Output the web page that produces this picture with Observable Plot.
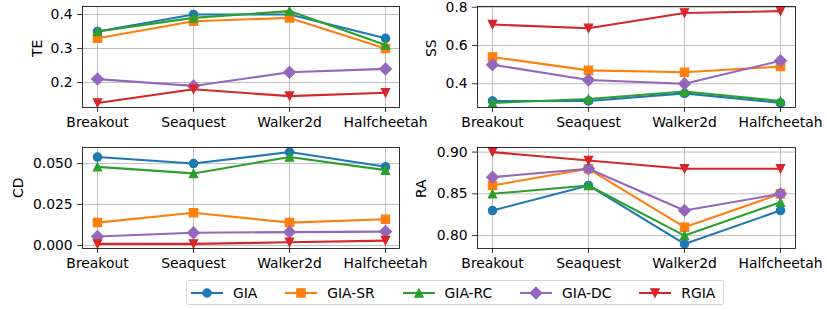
<!DOCTYPE html>
<html><head><meta charset="utf-8">
<script src="https://cdn.jsdelivr.net/npm/d3@7"></script>
<script src="https://cdn.jsdelivr.net/npm/@observablehq/plot@0.6"></script>
<style>
body{margin:0;background:#fff;font-family:"DejaVu Sans",sans-serif;color:#000;}
#chart{position:relative;width:827px;height:310px;overflow:hidden;}
#chart svg.panel{position:absolute;overflow:visible;background:none;}
#legend{position:absolute;left:186px;top:280px;height:25px;box-sizing:border-box;border:1px solid #d6d6d6;border-radius:3px;display:flex;align-items:center;padding-left:4px;padding-right:8px;font-size:13.9px;white-space:nowrap;}
#legend .item{display:flex;align-items:center;margin-right:27.8px;}
#legend .item:last-child{margin-right:0;}
#legend svg{margin-right:10px;}
</style></head><body><div id="chart"></div>
<script>
// ---- data ----
const environments = ["Breakout", "Seaquest", "Walker2d", "Halfcheetah"];
const methods = ["GIA", "GIA-SR", "GIA-RC", "GIA-DC", "RGIA"];
const colors = ["#1f77b4", "#ff7f0e", "#2ca02c", "#9467bd", "#d62728"];

// rows follow `methods`, columns follow `environments`
const teValues = [
  [0.35, 0.40, 0.40, 0.33],
  [0.33, 0.38, 0.39, 0.30],
  [0.35, 0.39, 0.41, 0.31],
  [0.21, 0.19, 0.23, 0.24],
  [0.14, 0.18, 0.16, 0.17]
];
const ssValues = [
  [0.31, 0.31, 0.35, 0.30],
  [0.54, 0.47, 0.46, 0.49],
  [0.30, 0.32, 0.36, 0.31],
  [0.50, 0.42, 0.40, 0.52],
  [0.71, 0.69, 0.77, 0.78]
];
const cdValues = [
  [0.054, 0.050, 0.057, 0.048],
  [0.014, 0.020, 0.014, 0.016],
  [0.048, 0.044, 0.054, 0.046],
  [0.0055, 0.0078, 0.0082, 0.0085],
  [0.001, 0.001, 0.002, 0.003]
];
const raValues = [
  [0.83, 0.86, 0.79, 0.83],
  [0.86, 0.88, 0.81, 0.85],
  [0.85, 0.86, 0.80, 0.84],
  [0.87, 0.88, 0.83, 0.85],
  [0.90, 0.89, 0.88, 0.88]
];
const teTicks = [0.2, 0.3, 0.4];
const ssTicks = [0.4, 0.6, 0.8];
const cdTicks = [0.000, 0.025, 0.050];
const raTicks = [0.80, 0.85, 0.90];

// ---- styles ----
const FONT = 13.9;
const HALF = 4.17; // half marker size (px)
const markerSymbols = [
  {draw(c){ c.moveTo(HALF, 0); c.arc(0, 0, HALF, 0, 2 * Math.PI); c.closePath(); }},
  {draw(c){ c.rect(-HALF, -HALF, 2 * HALF, 2 * HALF); }},
  {draw(c){ c.moveTo(0, -HALF); c.lineTo(HALF, HALF); c.lineTo(-HALF, HALF); c.closePath(); }},
  {draw(c){ const d = HALF * Math.SQRT2; c.moveTo(0, -d); c.lineTo(d, 0); c.lineTo(0, d); c.lineTo(-d, 0); c.closePath(); }},
  {draw(c){ c.moveTo(0, HALF); c.lineTo(HALF, -HALF); c.lineTo(-HALF, -HALF); c.closePath(); }}
];

function panel(values, label, ticks, fmt, box) {
  const rows = [];
  methods.forEach((m, i) => environments.forEach((e, j) => rows.push({method: m, env: e, value: values[i][j]})));
  const all = values.flat();
  const lo = d3.min(all), hi = d3.max(all), pad = (hi - lo) * 0.05;
  const marks = [
    Plot.gridX({stroke: "#b0b0b0", strokeOpacity: 1, strokeWidth: 0.8}),
    Plot.gridY(ticks, {stroke: "#b0b0b0", strokeOpacity: 1, strokeWidth: 0.8})
  ];
  methods.forEach((m, i) => {
    const d = rows.filter(r => r.method === m);
    marks.push(Plot.line(d, {x: "env", y: "value", stroke: colors[i], strokeWidth: 2.08, clip: "frame"}));
    marks.push(Plot.dot(d, {x: "env", y: "value", symbol: markerSymbols[i], fill: colors[i], stroke: colors[i], strokeWidth: 1.2, r: 4, clip: "frame"}));
  });
  marks.push(Plot.frame({stroke: "black", strokeWidth: 0.8}));
  marks.push(Plot.axisX({tickSize: 4.9, tickPadding: 4.9, fontSize: FONT, label: null, stroke: "black", strokeWidth: 0.8}));
  marks.push(Plot.axisY(ticks, {tickSize: 4.9, tickPadding: 4.9, fontSize: FONT, tickFormat: d3.format(fmt), label: null, stroke: "black", strokeWidth: 0.8}));
  marks.push(Plot.text([label], {text: d => d, frameAnchor: "left", rotate: -90, dx: box.labelDx, lineAnchor: "middle", fontSize: FONT, fill: "black"}));
  const svg = Plot.plot({
    width: box.width, height: box.height,
    marginLeft: box.ml, marginRight: box.mr, marginTop: box.mt, marginBottom: box.mb,
    style: {fontFamily: "DejaVu Sans", fontSize: FONT + "px", overflow: "visible", background: "none", color: "black"},
    x: {type: "point", domain: environments, padding: 0.15},
    y: {domain: [lo - pad, hi + pad]},
    marks
  });
  svg.classList.add("panel");
  svg.style.left = box.left + "px";
  svg.style.top = box.top + "px";
  return svg;
}

const chart = document.getElementById("chart");
chart.append(panel(teValues, "TE", teTicks, ".1f", {left: 0, top: 0, width: 413, height: 135, ml: 82, mr: 14, mt: 6, mb: 28, labelDx: -45}));
chart.append(panel(ssValues, "SS", ssTicks, ".1f", {left: 413, top: 0, width: 414, height: 135, ml: 64, mr: 32, mt: 6, mb: 28, labelDx: -46}));
chart.append(panel(cdValues, "CD", cdTicks, ".3f", {left: 0, top: 135, width: 413, height: 140, ml: 82, mr: 14, mt: 12, mb: 27, labelDx: -63.5}));
chart.append(panel(raValues, "RA", raTicks, ".2f", {left: 413, top: 135, width: 414, height: 140, ml: 64, mr: 32, mt: 12, mb: 27, labelDx: -56}));

// ---- legend ----
const legend = document.createElement("div");
legend.id = "legend";
methods.forEach((m, i) => {
  const item = document.createElement("div");
  item.className = "item";
  const s = d3.create("svg").attr("width", 32).attr("height", 14);
  s.append("line").attr("x1", 0).attr("x2", 32).attr("y1", 7).attr("y2", 7).attr("stroke", colors[i]).attr("stroke-width", 2.08);
  const p = d3.path();
  markerSymbols[i].draw(p);
  s.append("path").attr("d", p.toString()).attr("transform", "translate(16,7)").attr("fill", colors[i]).attr("stroke", colors[i]).attr("stroke-width", 1.2);
  item.append(s.node());
  const t = document.createElement("span");
  t.textContent = m;
  item.append(t);
  legend.append(item);
});
chart.append(legend);
</script></body></html>
